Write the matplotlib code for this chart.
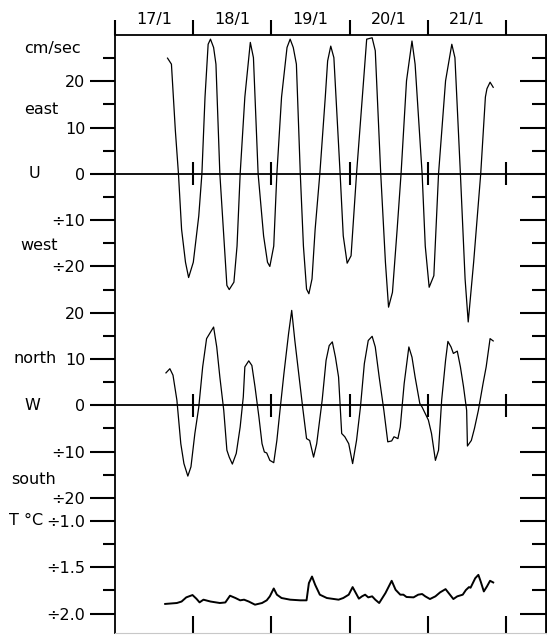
import numpy as np
import matplotlib.pyplot as plt
from matplotlib import transforms

# day labels on top axis (centred on each day)
day_labels = ['17/1', '18/1', '19/1', '20/1', '21/1']
day_marks = [18, 19, 20, 21, 22]

# U (east/west) current, cm/sec
u_day = [17.67, 17.72, 17.77, 17.81, 17.85, 17.90, 17.94, 18.00, 18.07, 18.11,
         18.15, 18.19, 18.22, 18.26, 18.29, 18.34, 18.39, 18.43, 18.46, 18.52,
         18.56, 18.60, 18.66, 18.73, 18.77, 18.83, 18.90, 18.95, 18.98, 19.03,
         19.07, 19.13, 19.20, 19.24, 19.28, 19.32, 19.37, 19.41, 19.45, 19.48,
         19.52, 19.56, 19.62, 19.69, 19.72, 19.76, 19.80, 19.88, 19.92, 19.97,
         20.02, 20.09, 20.18, 20.22, 20.29, 20.33, 20.40, 20.46, 20.50, 20.55,
         20.61, 20.66, 20.73, 20.80, 20.84, 20.93, 20.97, 21.02, 21.08, 21.14,
         21.23, 21.31, 21.35, 21.42, 21.48, 21.52, 21.59, 21.68, 21.74, 21.76,
         21.80, 21.84]
u_vel = [25.0, 23.7, 9.4, 0, -12, -19.1, -22.4, -19.1, -9.1, 0,
         16.6, 28, 29.1, 27.3, 23.7, 0, -13.4, -24.1, -25, -23.4,
         -15.6, 0, 16.6, 28.4, 25.1, 0, -13.4, -19.1, -20, -15.6,
         0, 16.6, 27.3, 29.1, 27.3, 23.7, 0, -15.6, -24.9, -25.9,
         -22.7, -12, 0, 16.6, 24.4, 27.6, 25.1, 0, -13.4, -19.3,
         -17.7, 0, 20.1, 29.1, 29.4, 26.6, 0, -19.1, -28.8, -25.6,
         -12, 0, 20.1, 28.7, 23.7, 0, -15.6, -24.5, -22, 0,
         20.1, 28, 25.1, 0, -22.7, -32, -19, 0, 16.6, 18.4,
         19.8, 18.7]

# W (north/south) current, cm/sec
w_day = [17.65, 17.70, 17.74, 17.79, 17.84, 17.88, 17.93, 17.97, 18.02, 18.07,
         18.12, 18.17, 18.22, 18.26, 18.30, 18.34, 18.39, 18.43, 18.46, 18.50,
         18.55, 18.60, 18.64, 18.66, 18.71, 18.75, 18.79, 18.84, 18.88, 18.91,
         18.94, 18.98, 19.03, 19.07, 19.11, 19.16, 19.22, 19.26, 19.30, 19.35,
         19.40, 19.45, 19.49, 19.54, 19.58, 19.65, 19.70, 19.74, 19.78, 19.82,
         19.86, 19.90, 19.94, 19.99, 20.04, 20.09, 20.14, 20.19, 20.24, 20.29,
         20.33, 20.38, 20.44, 20.49, 20.54, 20.57, 20.62, 20.65, 20.70, 20.76,
         20.80, 20.84, 20.90, 20.93, 20.97, 21.01, 21.05, 21.10, 21.14, 21.18,
         21.23, 21.26, 21.30, 21.33, 21.38, 21.42, 21.46, 21.50, 21.51, 21.56,
         21.60, 21.65, 21.71, 21.75, 21.80, 21.84]
w_vel = [7.0, 7.9, 6.5, 1.1, -8.3, -12.6, -15.3, -13.3, -6.1, -0.4,
         8.3, 14.4, 15.8, 16.9, 12.6, 6.1, -1.1, -9.7, -11.2, -12.7,
         -10.4, -4.7, 1.8, 8.3, 9.6, 8.6, 4.0, -2.5, -8.3, -10.1,
         -10.3, -11.9, -12.4, -7.6, -1.1, 6.8, 15.5, 20.5, 14.0, 6.8,
         -0.4, -7.2, -7.6, -11.2, -8.3, 1.1, 9.7, 12.9, 13.7, 10.4,
         6.1, -6.1, -6.8, -8.3, -12.6, -7.6, -0.4, 9.0, 14.0, 14.9,
         12.6, 6.1, -1.1, -7.9, -7.7, -6.8, -7.2, -4.7, 4.7, 12.6,
         10.4, 6.1, 0.4, -0.4, -1.8, -3.2, -6.1, -11.9, -9.7, 1.1,
         9.7, 13.8, 12.6, 11.2, 11.7, 8.3, 4.0, -1.1, -8.8, -7.6,
         -5.0, -1.1, 4.7, 8.3, 14.4, 13.9]

# temperature, deg C
t_day = [17.64, 17.79, 17.85, 17.91, 17.99, 18.04, 18.08, 18.13, 18.22, 18.34,
         18.41, 18.47, 18.54, 18.60, 18.65, 18.71, 18.79, 18.88, 18.94, 18.98,
         19.03, 19.07, 19.13, 19.24, 19.37, 19.45, 19.48, 19.52, 19.56, 19.62,
         19.71, 19.86, 19.92, 19.99, 20.04, 20.07, 20.12, 20.16, 20.20, 20.24,
         20.29, 20.33, 20.38, 20.46, 20.54, 20.59, 20.65, 20.69, 20.73, 20.82,
         20.88, 20.93, 20.97, 21.03, 21.10, 21.16, 21.23, 21.27, 21.33, 21.38,
         21.45, 21.49, 21.53, 21.55, 21.61, 21.65, 21.68, 21.72, 21.76, 21.80,
         21.84]
t_temp = [-1.896, -1.886, -1.87, -1.825, -1.80, -1.84, -1.879, -1.85, -1.87, -1.886,
          -1.88, -1.807, -1.832, -1.857, -1.85, -1.87, -1.904, -1.886, -1.857, -1.814,
          -1.729, -1.796, -1.832, -1.85, -1.857, -1.857, -1.671, -1.60, -1.689, -1.796,
          -1.832, -1.85, -1.832, -1.796, -1.714, -1.761, -1.839, -1.814, -1.796, -1.825,
          -1.814, -1.85, -1.886, -1.779, -1.646, -1.743, -1.796, -1.796, -1.821, -1.825,
          -1.796, -1.789, -1.814, -1.843, -1.814, -1.771, -1.736, -1.779, -1.843, -1.814,
          -1.796, -1.746, -1.714, -1.721, -1.618, -1.582, -1.654, -1.761, -1.707, -1.646,
          -1.664]

u_ticks = [20, 10, 0, -10, -20]
u_minor = [25, 15, 5, -5, -15, -25]
w_ticks = [20, 10, 0, -10, -20]
w_minor = [15, 5, -5, -15]
t_ticks = [-1.0, -1.5, -2.0]
t_minor = [-1.25, -1.75]

# the three records share one axis, stacked with offsets (cm/sec units)
W_OFF = -50
T_OFF = -75      # where T = -1.0 sits
T_SCALE = 20     # cm/sec units per deg C


def t_pos(t):
    return T_OFF + (np.asarray(t) + 1.0) * T_SCALE


def neg(v, fmt):
    s = format(abs(v), fmt)
    return '÷' + s if v < 0 else s


W, H = 547, 635
fig = plt.figure(figsize=(W / 100, H / 100), dpi=100)
ax = fig.add_axes([115.2 / W, 2 / H, (546 - 115.2) / W, 598 / H])
ax.set_xlim(17, 22.516)
ax.set_ylim(-99.2, 30)

ax.plot(u_day, u_vel, color='k', lw=0.9)
ax.plot(w_day, np.array(w_vel) + W_OFF, color='k', lw=0.9)
ax.plot(t_day, t_pos(t_temp), color='k', lw=1.4)

# zero lines with day marks
for y0 in (0, W_OFF):
    ax.axhline(y0, color='k', lw=1.3)
    ax.vlines(day_marks, y0 - 2.5, y0 + 2.5, color='k', lw=1.5)

# y ticks
major_pos = u_ticks + [v + W_OFF for v in w_ticks] + list(t_pos(t_ticks))
major_lab = ([neg(v, 'g') for v in u_ticks] + [neg(v, 'g') for v in w_ticks]
             + [neg(v, '.1f') for v in t_ticks])
minor_pos = u_minor + [v + W_OFF for v in w_minor] + list(t_pos(t_minor))
ax.set_yticks(major_pos, labels=major_lab)
ax.set_yticks(minor_pos, minor=True)
ax.tick_params(axis='y', which='major', direction='out', length=18, width=1.5,
               pad=3.5, labelsize=11.5)
ax.tick_params(axis='y', which='minor', direction='out', length=9, width=1.5)

sec_y = ax.secondary_yaxis('right')
sec_y.set_yticks(major_pos)
sec_y.set_yticks(minor_pos, minor=True)
sec_y.tick_params(which='major', direction='in', length=19, width=1.5, labelright=False)
sec_y.tick_params(which='minor', direction='in', length=10, width=1.5)

# x ticks: day boundaries on top, labels in the middle of each day
ax.set_xticks(np.arange(17, 23))
ax.set_xticks(np.arange(17.5, 22), labels=day_labels, minor=True)
ax.xaxis.set_ticks_position('top')
ax.tick_params(axis='x', which='major', direction='out', length=11, width=1.5,
               labeltop=False, labelbottom=False)
ax.tick_params(axis='x', which='minor', length=0, pad=6, labelsize=11.5,
               labeltop=True, labelbottom=False)

sec_x = ax.secondary_xaxis('bottom')
sec_x.set_xticks(day_marks)
sec_x.tick_params(direction='in', length=12, width=1.5, labelbottom=False)
sec_x.spines['bottom'].set_visible(False)

for s in ('top', 'left', 'right'):
    ax.spines[s].set_linewidth(1.3)
ax.spines['bottom'].set_color('#c8c8c8')
ax.spines['bottom'].set_linewidth(0.8)

# side annotations
side = transforms.blended_transform_factory(fig.transFigure, ax.transData)
notes = [('cm/sec', 52, 27), ('east', 41, 14), ('U', 34, 0), ('west', 39, -15.5),
         ('north', 35, W_OFF + 10), ('W', 32, W_OFF), ('south', 34, W_OFF - 16),
         ('T °C', 26, T_OFF)]
for txt, xp, yv in notes:
    ax.text(xp / W, yv, txt, transform=side, ha='center', va='center', fontsize=11.5)

fig.savefig('out.png', dpi=100)
